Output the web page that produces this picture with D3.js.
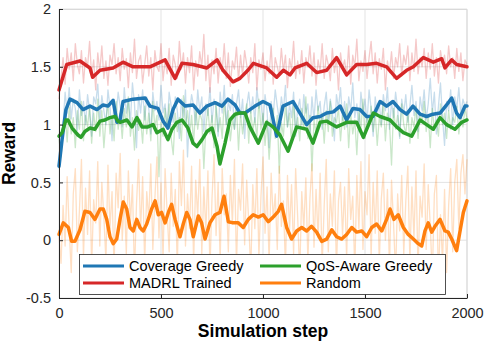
<!DOCTYPE html>
<html><head><meta charset="utf-8">
<script src="https://cdn.jsdelivr.net/npm/d3@7"></script>
<style>
html,body{margin:0;padding:0;background:#fff;}
svg{display:block;font-family:"Liberation Sans",Arial,Helvetica,sans-serif;}
</style></head>
<body><svg id="chart" width="488" height="347"></svg>
<script>
// ---- data ----
const seriesNames = ["Coverage Greedy", "MADRL Trained", "QoS-Aware Greedy", "Random"];
const seriesColors = ["#1f77b4", "#d62728", "#2ca02c", "#ff7f0e"];
const xTicks = [0, 500, 1000, 1500, 2000];
const xTickLabels = ["0", "500", "1000", "1500", "2000"];
const yTicks = [-0.5, 0, 0.5, 1, 1.5, 2];
const yTickLabels = ["-0.5", "0", "0.5", "1", "1.5", "2"];
const rawStep = 10;

const coverageRaw = [0.62,0.80,1.00,1.28,1.10,1.32,1.05,1.22,1.14,0.95,
1.30,1.08,1.20,1.00,1.26,1.12,0.90,1.24,1.18,1.35,
1.04,1.25,1.12,1.00,1.30,1.15,0.86,1.22,1.08,1.28,
1.16,0.98,1.32,1.10,1.22,1.02,1.36,1.18,0.80,1.26,
1.10,1.30,1.04,1.24,1.14,0.92,1.28,1.12,1.20,1.04,
1.34,1.10,1.18,0.96,1.28,1.16,1.02,1.24,1.12,0.88,
1.22,1.06,1.30,0.72,1.10,1.26,1.16,1.00,1.30,1.12,
1.24,0.94,1.18,1.08,1.32,1.02,1.22,1.14,0.90,1.28,
1.10,1.34,1.00,1.20,1.12,1.26,0.96,1.18,1.30,1.06,
1.22,0.88,1.16,1.28,1.10,1.24,1.02,1.32,1.14,1.20,
1.00,1.26,1.12,0.80,1.20,1.08,1.30,1.16,1.04,1.24,
1.12,1.34,0.98,1.18,1.06,1.28,0.90,1.14,1.22,1.00,
1.26,1.10,1.18,0.92,1.24,1.04,1.30,1.12,1.20,0.96,
1.16,1.28,1.02,1.22,1.10,0.86,1.26,1.14,1.32,1.04,
1.20,0.98,1.24,1.12,1.36,1.06,1.18,0.94,1.28,1.10,
1.22,1.02,1.30,1.14,0.90,1.24,1.08,1.18,1.00,1.26,
1.12,1.32,0.96,1.20,1.06,1.28,1.14,0.88,1.22,1.10,
1.26,1.02,1.16,1.34,1.08,1.20,0.94,1.24,1.12,1.30,
1.04,1.18,1.40,1.10,1.28,0.92,1.16,1.36,1.06,0.82,
1.20,1.12,1.30,1.00,1.24,1.14,1.32,1.08,1.22,1.16,
1.20];

const madrlRaw = [1.22,1.40,1.58,1.35,1.66,1.48,1.62,1.38,1.70,1.52,
1.44,1.64,1.36,1.58,1.50,1.72,1.42,1.56,1.30,1.62,
1.46,1.68,1.40,1.55,1.34,1.60,1.52,1.70,1.44,1.58,
1.38,1.66,1.48,1.57,1.32,1.62,1.45,1.74,1.40,1.55,
1.60,1.36,1.52,1.68,1.42,1.58,1.30,1.64,1.50,1.46,
1.70,1.38,1.56,1.44,1.66,1.34,1.60,1.52,1.40,1.72,
1.48,1.62,1.36,1.58,1.45,1.68,1.30,1.55,1.42,1.63,
1.50,1.78,1.38,1.60,1.28,1.56,1.44,1.66,1.36,1.58,
1.46,1.70,1.40,1.62,1.33,1.55,1.48,1.67,1.38,1.60,
1.42,1.64,1.52,1.36,1.58,1.45,1.70,1.30,1.56,1.48,
1.62,1.38,1.55,1.44,1.68,1.35,1.58,1.50,1.42,1.66,
1.46,1.60,1.32,1.57,1.48,1.72,1.40,1.55,1.44,1.64,
1.36,1.58,1.50,1.68,1.42,1.62,1.34,1.56,1.46,1.70,
1.40,1.60,1.52,1.38,1.66,1.45,1.58,1.30,1.62,1.48,
1.56,1.42,1.68,1.35,1.60,1.50,1.74,1.38,1.55,1.46,
1.64,1.40,1.58,1.72,1.44,1.62,1.36,1.57,1.48,1.66,
1.30,1.55,1.45,1.63,1.40,1.58,1.50,1.70,1.42,1.60,
1.52,1.68,1.38,1.62,1.46,1.74,1.44,1.58,1.50,1.66,
1.40,1.62,1.48,1.70,1.42,1.58,1.36,1.64,1.52,1.60,
1.44,1.68,1.50,1.58,1.40,1.66,1.46,1.62,1.38,1.56,
1.52];

const qosRaw = [0.88,0.72,0.95,1.10,0.85,1.15,0.92,1.06,0.80,1.12,
0.96,1.20,0.86,1.08,0.98,1.16,0.84,1.10,0.94,1.22,
0.90,1.12,0.80,1.04,1.18,0.92,1.08,0.86,1.20,0.96,
1.10,0.88,1.14,0.98,1.24,0.90,1.06,0.78,1.12,0.95,
1.04,0.84,1.16,0.92,1.10,0.86,1.20,0.98,1.08,0.55,
1.02,0.90,1.14,0.96,1.18,0.88,0.74,1.10,0.94,1.06,
0.86,1.25,0.98,1.12,0.90,1.08,0.84,1.16,0.96,1.10,
1.04,0.62,0.98,1.14,0.92,1.08,0.80,1.18,0.94,1.06,
0.88,1.20,1.00,1.12,0.86,1.04,0.96,1.16,0.78,1.10,
0.92,1.08,1.18,0.84,1.12,0.94,1.06,0.88,1.22,0.96,
1.10,0.82,1.04,0.70,0.96,1.14,0.88,1.08,0.58,1.02,
0.90,1.16,0.98,1.10,0.84,1.20,0.94,1.06,0.86,1.14,
0.96,1.24,0.88,1.08,0.60,1.04,0.92,1.16,0.98,1.10,
0.84,1.12,0.94,1.20,0.90,1.06,1.02,1.14,0.86,1.08,
0.96,1.18,0.80,1.10,0.92,1.04,0.74,1.12,0.96,1.22,
0.88,1.08,1.00,1.16,0.94,1.10,0.82,1.06,0.98,1.20,
0.86,1.10,1.02,0.65,1.14,0.96,1.08,0.90,1.18,1.00,
0.92,1.12,0.84,1.06,0.98,1.16,0.88,1.10,1.02,1.20,
0.94,1.08,0.80,1.14,0.96,1.04,0.90,1.18,1.00,1.10,
0.88,1.12,0.96,1.06,1.02,1.16,0.92,1.10,0.98,1.14,
1.05];

const randomRaw = [0.05,-0.20,0.30,-0.05,0.55,0.10,-0.28,0.40,0.62,-0.10,
0.25,0.70,-0.15,0.45,0.05,0.60,-0.22,0.35,0.15,0.68,
-0.05,0.50,0.20,-0.18,0.65,0.10,0.42,-0.25,0.58,0.28,
0.75,0.00,0.38,-0.12,0.60,0.15,0.48,-0.30,0.32,0.70,
0.08,0.55,-0.20,0.42,0.18,0.66,-0.08,0.36,0.72,0.02,
0.50,-0.16,0.62,0.24,-0.10,0.58,0.12,0.44,-0.24,0.68,
0.30,0.78,-0.05,0.40,0.10,0.64,-0.20,0.52,0.20,0.70,
-0.12,0.46,0.08,0.60,-0.26,0.36,0.74,0.04,0.50,-0.18,
0.62,0.22,0.40,-0.10,0.56,0.14,0.70,-0.22,0.44,0.26,
0.66,-0.04,0.52,0.16,-0.28,0.48,0.10,0.62,-0.14,0.38,
0.72,0.06,0.46,-0.20,0.58,0.18,0.40,-0.08,0.64,0.12,
0.34,-0.24,0.56,0.08,0.48,-0.12,0.62,0.20,-0.30,0.42,
0.10,0.54,-0.18,0.36,0.66,-0.06,0.44,0.02,0.58,-0.22,
0.30,0.70,-0.10,0.40,0.12,0.60,-0.26,0.34,0.50,0.04,
0.46,-0.16,0.62,0.18,0.38,-0.28,0.56,0.10,0.68,-0.08,
0.42,0.22,0.74,-0.14,0.50,0.06,0.60,-0.20,0.36,0.58,
0.00,0.44,-0.24,0.52,0.14,-0.30,0.40,0.08,0.56,-0.12,
0.34,0.64,-0.18,0.46,0.02,0.60,-0.26,0.38,0.20,0.66,
-0.08,0.48,0.12,-0.32,0.40,0.56,-0.35,0.22,-0.20,0.44,
-0.28,0.30,0.62,-0.10,0.50,0.70,0.10,0.58,0.74,0.40,
0.70];

const coverageSmooth = [[0,0.64],[15,0.87],[34,1.13],[54,1.22],[88,1.19],[118,1.13],[152,1.16],[186,1.13],[216,1.17],[240,1.16],[265,1.21],[284,1.02],[299,1.04],[314,1.20],[363,1.22],[422,1.23],[446,1.16],[485,1.14],[510,1.03],[534,0.97],[559,1.13],[583,1.22],[618,1.16],[657,1.17],[691,1.10],[725,1.16],[765,1.19],[799,1.16],[828,1.22],[863,1.17],[887,1.10],[912,1.10],[936,1.13],[961,1.16],[1000,1.20],[1034,1.17],[1067,0.90],[1098,1.16],[1147,1.20],[1181,1.10],[1214,1.00],[1245,1.06],[1280,1.07],[1312,1.10],[1345,1.11],[1378,1.16],[1410,1.04],[1441,1.14],[1475,1.13],[1508,1.07],[1539,1.07],[1574,1.20],[1606,1.16],[1637,1.20],[1672,1.13],[1704,1.09],[1735,1.16],[1770,1.09],[1802,1.07],[1833,1.09],[1868,1.10],[1900,1.17],[1925,1.23],[1949,1.10],[1966,1.06],[1990,1.16],[2000,1.16]];

const madrlSmooth = [[0,1.30],[38,1.52],[103,1.55],[152,1.49],[165,1.41],[201,1.47],[265,1.49],[314,1.54],[363,1.50],[446,1.50],[520,1.56],[569,1.40],[603,1.53],[657,1.52],[725,1.49],[775,1.56],[804,1.47],[853,1.37],[887,1.40],[926,1.47],[953,1.53],[1018,1.49],[1067,1.41],[1100,1.47],[1132,1.43],[1157,1.49],[1214,1.53],[1263,1.45],[1312,1.47],[1361,1.58],[1410,1.43],[1459,1.52],[1508,1.52],[1557,1.53],[1606,1.50],[1655,1.40],[1704,1.47],[1737,1.50],[1786,1.58],[1835,1.54],[1876,1.57],[1892,1.49],[1925,1.56],[1949,1.52],[2000,1.50]];

const qosSmooth = [[0,0.90],[15,0.93],[34,1.04],[44,1.04],[64,0.97],[93,0.91],[108,0.89],[127,0.94],[152,0.97],[176,0.96],[201,1.03],[225,1.04],[250,1.06],[275,1.07],[289,1.03],[299,1.02],[333,1.04],[358,0.98],[382,1.06],[407,0.98],[436,0.98],[461,1.00],[480,0.93],[510,0.96],[534,0.87],[554,0.96],[578,1.02],[603,1.04],[632,0.97],[657,0.84],[676,0.81],[701,0.87],[725,0.94],[750,0.97],[775,0.81],[789,0.66],[814,0.84],[838,1.04],[863,1.09],[887,1.10],[912,1.10],[936,0.98],[977,0.84],[1018,1.02],[1049,0.98],[1083,0.91],[1123,0.77],[1165,0.98],[1214,0.96],[1245,0.84],[1280,1.02],[1312,1.03],[1361,0.98],[1410,1.02],[1459,1.02],[1492,0.89],[1541,1.10],[1574,1.07],[1623,1.04],[1655,0.98],[1688,0.93],[1729,0.90],[1770,1.04],[1802,1.00],[1835,0.96],[1868,1.06],[1900,1.00],[1941,0.96],[1974,1.02],[2000,1.04]];

const randomSmooth = [[0,0.05],[21,0.15],[46,0.11],[62,-0.01],[78,-0.01],[103,0.09],[127,0.25],[152,0.24],[176,0.18],[201,0.27],[217,0.27],[234,0.18],[250,0.03],[266,-0.03],[283,0.01],[299,0.18],[315,0.33],[332,0.27],[348,0.11],[364,0.08],[381,0.18],[397,0.11],[413,0.08],[430,0.14],[454,0.27],[471,0.34],[487,0.22],[503,0.24],[520,0.15],[536,0.24],[552,0.31],[569,0.18],[593,0.03],[609,0.14],[626,0.24],[642,0.18],[658,0.03],[683,0.21],[699,0.15],[716,0.01],[740,0.15],[765,0.22],[789,0.24],[809,0.38],[830,0.16],[854,0.15],[879,0.15],[903,0.11],[928,0.18],[952,0.22],[977,0.20],[1001,0.22],[1026,0.16],[1050,0.20],[1075,0.25],[1091,0.31],[1116,0.11],[1140,0.01],[1165,0.08],[1190,0.11],[1214,0.08],[1238,0.12],[1263,0.07],[1288,-0.01],[1312,0.01],[1337,0.09],[1361,0.03],[1386,0.01],[1410,0.05],[1435,0.11],[1459,0.07],[1484,0.08],[1508,0.03],[1533,0.11],[1557,0.14],[1582,0.08],[1606,0.18],[1623,0.27],[1642,0.18],[1663,0.22],[1688,0.11],[1712,0.05],[1737,0.01],[1761,-0.03],[1778,-0.05],[1794,0.08],[1810,0.15],[1827,0.07],[1843,0.12],[1868,0.18],[1892,0.08],[1908,0.07],[1925,0.01],[1949,-0.09],[1966,0.08],[1982,0.24],[2000,0.34]];

const rawSeries = [coverageRaw, madrlRaw, qosRaw, randomRaw];
const smoothSeries = [coverageSmooth, madrlSmooth, qosSmooth, randomSmooth];

// ---- layout ----
const margin = {left: 59, top: 9, right: 21, bottom: 49};
const W = 488, H = 347;
const iw = W - margin.left - margin.right, ih = H - margin.top - margin.bottom;
const svg = d3.select("#chart");
const g = svg.append("g").attr("transform", `translate(${margin.left},${margin.top})`);
const x = d3.scaleLinear().domain([0, 2000]).range([0, iw]);
const y = d3.scaleLinear().domain([-0.5, 2]).range([ih, 0]);
const axisColor = "#262626", gridColor = "#e3e3e3";

// grid
g.append("g").selectAll("line").data(xTicks).join("line")
  .attr("x1", d => x(d)).attr("x2", d => x(d)).attr("y1", 0).attr("y2", ih)
  .attr("stroke", gridColor).attr("stroke-width", 1);
g.append("g").selectAll("line").data(yTicks).join("line")
  .attr("y1", d => y(d)).attr("y2", d => y(d)).attr("x1", 0).attr("x2", iw)
  .attr("stroke", gridColor).attr("stroke-width", 1);
g.append("path").attr("d", `M0,0.5H${iw}V${ih}`).attr("fill", "none").attr("stroke", "#d9d9d9");

// raw lines
const lineRaw = d3.line().x((d, i) => x(i * rawStep)).y(d => y(d));
rawSeries.forEach((s, k) => {
  g.append("path").datum(s).attr("d", lineRaw).attr("fill", "none")
    .attr("stroke", seriesColors[k]).attr("stroke-opacity", 0.25).attr("stroke-width", 1.3)
    .attr("stroke-linejoin", "round");
});
// smooth lines
const lineSm = d3.line().x(d => x(d[0])).y(d => y(d[1]));
smoothSeries.forEach((s, k) => {
  g.append("path").datum(s).attr("d", lineSm).attr("fill", "none")
    .attr("stroke", seriesColors[k]).attr("stroke-width", 3.5)
    .attr("stroke-linejoin", "round").attr("stroke-linecap", "round");
});

// axes
const xAxis = d3.axisBottom(x).tickValues(xTicks).tickFormat((d, i) => xTickLabels[i]).tickSizeInner(-4).tickSizeOuter(0).tickPadding(10);
const yAxis = d3.axisLeft(y).tickValues(yTicks).tickFormat((d, i) => yTickLabels[i]).tickSizeInner(-4).tickSizeOuter(0).tickPadding(8);
const gx = g.append("g").attr("transform", `translate(0,${ih})`).call(xAxis);
const gy = g.append("g").call(yAxis);
[gx, gy].forEach(a => {
  a.select(".domain").attr("stroke", axisColor);
  a.selectAll(".tick line").attr("stroke", axisColor);
  a.selectAll(".tick text").attr("fill", "#262626").style("font-size", "14.5px")
    .style("font-family", '"Liberation Sans",Arial,sans-serif');
});

// axis labels
svg.append("text").attr("x", margin.left + iw / 2).attr("y", 337)
  .attr("text-anchor", "middle").style("font-weight", "bold").style("font-size", "17.5px")
  .attr("fill", "#000").text("Simulation step");
svg.append("text").attr("transform", `translate(15,${margin.top + ih / 2}) rotate(-90)`)
  .attr("text-anchor", "middle").style("font-weight", "bold").style("font-size", "17.5px")
  .attr("fill", "#000").text("Reward");

// legend
const lg = svg.append("g");
lg.append("rect").attr("x", 79.5).attr("y", 254.5).attr("width", 366).attr("height", 40)
  .attr("fill", "#fff").attr("stroke", axisColor).attr("stroke-width", 0.8);
const colX = [83, 260], rowY = [266, 283];
seriesNames.forEach((name, i) => {
  const cx = colX[Math.floor(i / 2)], cy = rowY[i % 2];
  lg.append("line").attr("x1", cx).attr("x2", cx + 41).attr("y1", cy).attr("y2", cy)
    .attr("stroke", seriesColors[i]).attr("stroke-width", 3);
  lg.append("text").attr("x", cx + 46).attr("y", cy + 5).style("font-size", "14.5px")
    .attr("fill", "#000").text(name);
});
</script></body></html>
